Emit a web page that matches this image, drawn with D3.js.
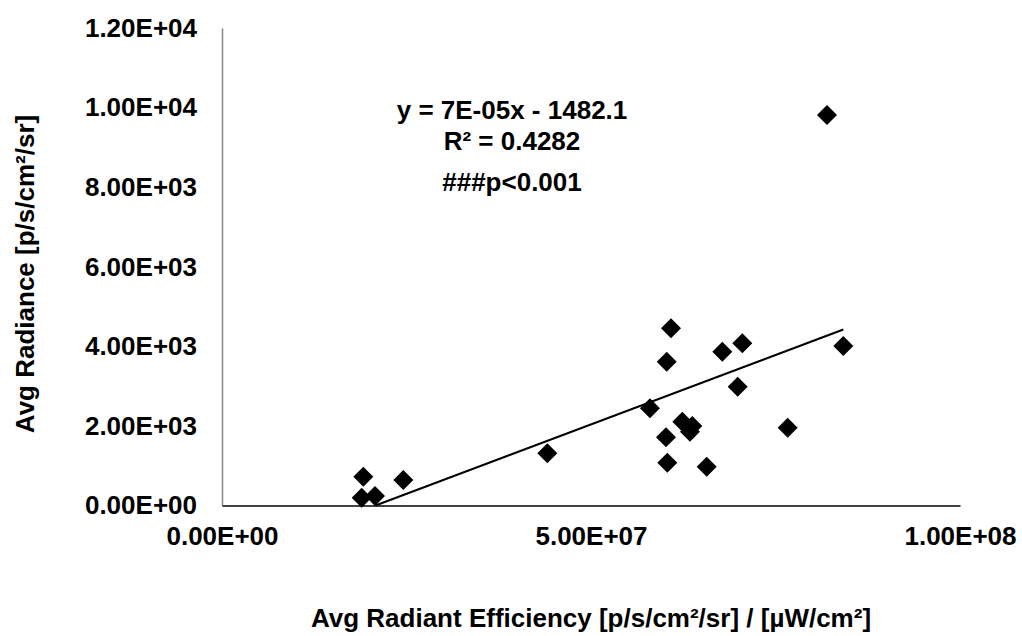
<!DOCTYPE html>
<html>
<head>
    <meta charset="utf-8">
    <title>Avg Radiance vs Avg Radiant Efficiency</title>
    <script src="https://d3js.org/d3.v7.min.js"></script>
    <style>
        body { margin: 0; background: #fff; }
        text { font-family: "Liberation Sans", Arial, sans-serif; font-weight: bold; fill: #000; }
    </style>
</head>
<body>
    <div id="chart"></div>

    <script>
        // values
        const efficiency = [6.084e7, 6.026e7, 6.779e7, 7.050e7, 8.419e7, 6.988e7, 5.799e7, 6.237e7, 6.373e7, 6.341e7,
                            6.016e7, 7.665e7, 4.408e7, 6.034e7, 6.568e7, 1.915e7, 2.457e7, 1.893e7, 2.073e7, 8.198e7];
        const radiance   = [4453, 3614, 3865, 4076, 4008, 2986, 2443, 2106, 1998, 1855,
                            1714, 1955, 1312, 1076, 975, 724, 641, 196, 239, 9814];
        const xTicks = [0, 5e7, 1e8];
        const yTicks = [0, 2000, 4000, 6000, 8000, 10000, 12000];
        const notes = ["y = 7E-05x - 1482.1", "R² = 0.4282", "###p<0.001"];

        const width = 1022, height = 636;
        const fontSize = 26;

        const svg = d3.select("#chart")
            .append("svg")
            .attr("width", width)
            .attr("height", height);

        const x = d3.scaleLinear().domain([0, 1e8]).range([222, 960]);
        const y = d3.scaleLinear().domain([0, 12000]).range([505.5, 28]);

        const fmt = v => {
            const s = v.toExponential(2).toUpperCase();   // e.g. 1.20E+4
            return s.replace(/E([+-])(\d)$/, "E$10$2");
        };

        // y axis
        const yAxis = svg.append("g")
            .attr("transform", `translate(${x(0)},0)`)
            .call(d3.axisLeft(y).tickValues(yTicks).tickFormat(fmt).tickSize(0).tickPadding(25));
        yAxis.select(".domain").attr("stroke", "#898989").attr("stroke-width", 1.5);
        yAxis.selectAll("text").style("font-size", fontSize + "px");

        // x axis
        const xAxis = svg.append("g")
            .attr("transform", `translate(0,${y(0)})`)
            .call(d3.axisBottom(x).tickValues(xTicks).tickFormat(fmt).tickSize(0).tickPadding(21));
        xAxis.select(".domain").attr("stroke", "#404040").attr("stroke-width", 2);
        xAxis.selectAll("text").style("font-size", fontSize + "px");

        // axis titles
        svg.append("text")
            .attr("x", (x.range()[0] + x.range()[1]) / 2)
            .attr("y", 627)
            .attr("text-anchor", "middle")
            .style("font-size", fontSize + "px")
            .text("Avg Radiant Efficiency [p/s/cm²/sr] / [µW/cm²]");

        svg.append("text")
            .attr("transform", "translate(34,274) rotate(-90)")
            .attr("text-anchor", "middle")
            .style("font-size", fontSize + "px")
            .text("Avg Radiance [p/s/cm²/sr]");

        // linear trendline fitted on the points, clipped at y = 0 like Excel
        const mx = d3.mean(efficiency), my = d3.mean(radiance);
        const sxy = d3.sum(efficiency, (v, i) => (v - mx) * (radiance[i] - my));
        const sxx = d3.sum(efficiency, v => (v - mx) * (v - mx));
        const slope = sxy / sxx, icpt = my - slope * mx;
        const x0 = Math.max(d3.min(efficiency), -icpt / slope);
        const x1 = d3.max(efficiency);

        svg.append("line")
            .attr("x1", x(x0)).attr("y1", y(slope * x0 + icpt))
            .attr("x2", x(x1)).attr("y2", y(slope * x1 + icpt))
            .attr("stroke", "#000")
            .attr("stroke-width", 2);

        // diamond markers
        const diamond = d3.symbol().type(d3.symbolSquare).size(200);
        svg.selectAll(".pt")
            .data(efficiency.map((v, i) => [v, radiance[i]]))
            .enter().append("path")
            .attr("class", "pt")
            .attr("d", diamond)
            .attr("transform", d => `translate(${x(d[0])},${y(d[1])}) rotate(45)`)
            .attr("fill", "#000");

        // equation and notes
        const noteY = [110, 141, 182];
        notes.forEach((t, i) => {
            svg.append("text")
                .attr("x", 512)
                .attr("y", noteY[i])
                .attr("text-anchor", "middle")
                .attr("dominant-baseline", "central")
                .style("font-size", fontSize + "px")
                .text(t);
        });
    </script>
</body>
</html>
